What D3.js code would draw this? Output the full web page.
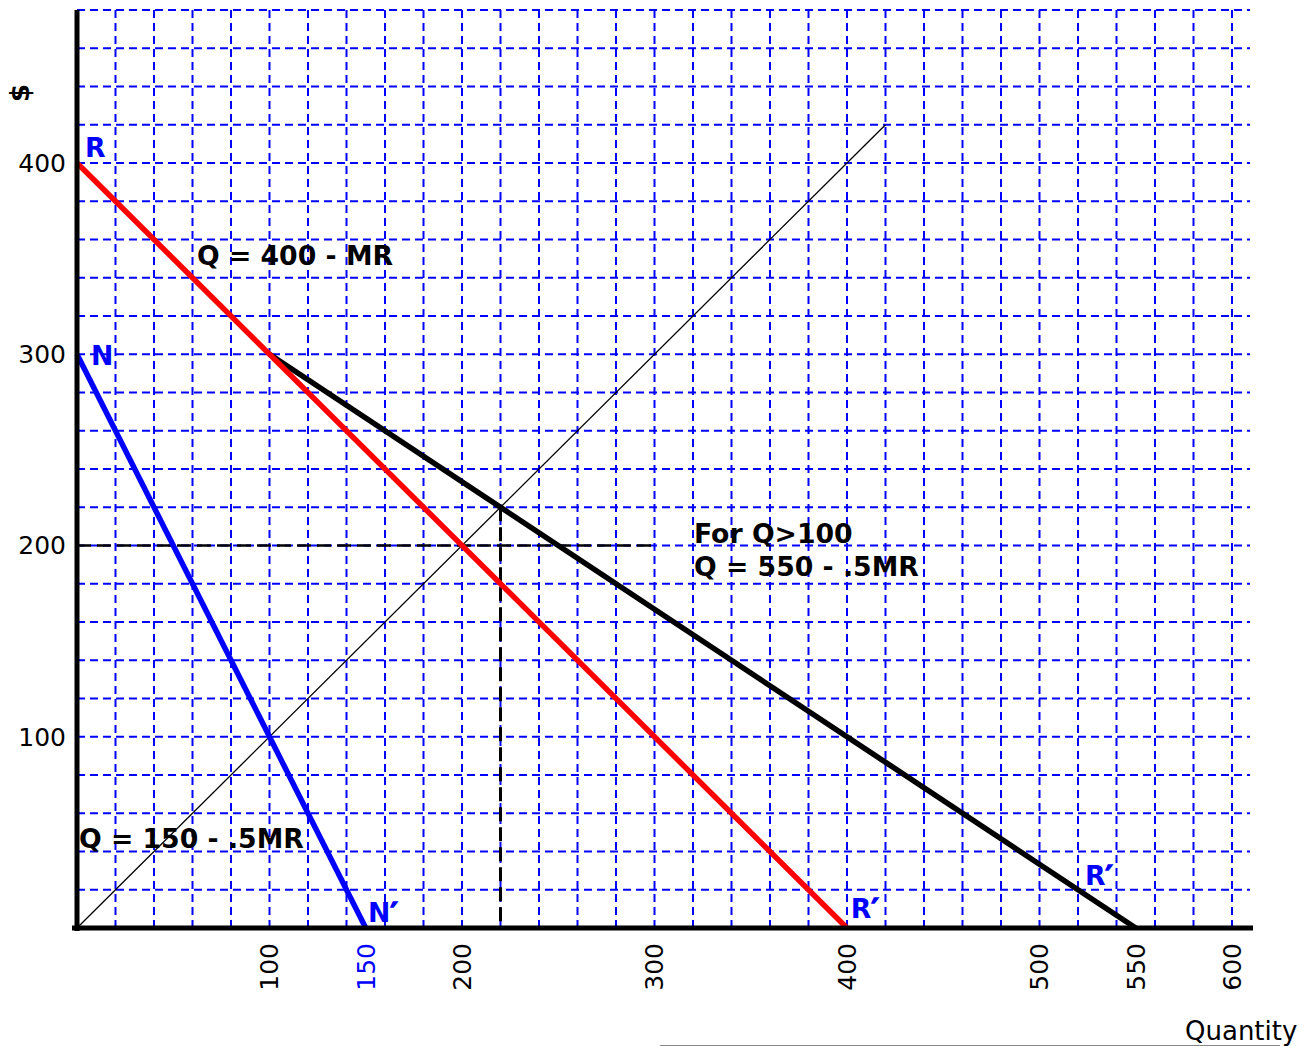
<!DOCTYPE html>
<html>
<head>
<meta charset="utf-8">
<script src="https://cdn.jsdelivr.net/npm/d3@7"></script>
<style>
  body { margin: 0; background: #fff; }
  svg { display: block; font-family: "DejaVu Sans", sans-serif; }
</style>
</head>
<body>
<svg id="chart" width="1308" height="1046"></svg>
<script>
// Axis ticks
const xTicks = [100, 150, 200, 300, 400, 500, 550, 600];
const xTickColors = ["black", "blue", "black", "black", "black", "black", "black", "black"];
const yTicks = [100, 200, 300, 400];

// Curves (Quantity, $)
const rCurve = [[0, 400], [400, 0]];
const nCurve = [[0, 300], [150, 0]];
const sumCurve = [[100, 300], [550, 0]];
const diagonal = [[0, 0], [420, 420]];
const dashH = [[0, 200], [300, 200]];
const dashV = [[220, 220], [220, 0]];

// Annotations, anchored in data space
const labels = [
  { text: "R", prime: false, x: 4.2, y: 403, color: "blue" },
  { text: "N", prime: false, x: 7.3, y: 294.4, color: "blue" },
  { text: "Q = 400 - MR", prime: false, x: 62.3, y: 346.7, color: "black" },
  { text: "For Q>100", prime: false, x: 320.5, y: 201.3, color: "black" },
  { text: "Q = 550 - .5MR", prime: false, x: 320.5, y: 184, color: "black" },
  { text: "Q = 150 - .5MR", prime: false, x: 1, y: 41.8, color: "black" },
  { text: "N", prime: true, x: 151.2, y: 3.1, color: "blue" },
  { text: "R", prime: true, x: 402, y: 5.2, color: "blue" },
  { text: "R", prime: true, x: 523.6, y: 22.5, color: "blue" }
];

const svg = d3.select("#chart");

const x = d3.scaleLinear().domain([0, 600]).range([77, 1232]);
const y = d3.scaleLinear().domain([0, 480]).range([928, 10]);

const line = d3.line().x(d => x(d[0])).y(d => y(d[1]));

// grid
const grid = svg.append("g")
  .attr("stroke", "#0000ff")
  .attr("stroke-width", 2)
  .attr("stroke-dasharray", "8,5");

grid.selectAll("line.v")
  .data(d3.range(20, 601, 20))
  .enter().append("line")
  .attr("class", "v")
  .attr("x1", d => x(d)).attr("x2", d => x(d))
  .attr("y1", y(480)).attr("y2", y(0) + 3);

grid.selectAll("line.h")
  .data(d3.range(20, 481, 20))
  .enter().append("line")
  .attr("class", "h")
  .attr("x1", x(0)).attr("x2", 1250)
  .attr("y1", d => y(d)).attr("y2", d => y(d));

// dashed guides
svg.append("path").datum(dashH)
  .attr("d", line).attr("fill", "none")
  .attr("stroke", "black").attr("stroke-width", 2.5)
  .attr("stroke-dasharray", "14,6");

svg.append("path").datum(dashV)
  .attr("d", line).attr("fill", "none")
  .attr("stroke", "black").attr("stroke-width", 3)
  .attr("stroke-dasharray", "14,6");

// 45 degree line
svg.append("path").datum(diagonal)
  .attr("d", line).attr("fill", "none")
  .attr("stroke", "black").attr("stroke-width", 1.3);

// curves
svg.append("path").datum(sumCurve)
  .attr("d", line).attr("fill", "none")
  .attr("stroke", "black").attr("stroke-width", 5.5);

svg.append("path").datum(rCurve)
  .attr("d", line).attr("fill", "none")
  .attr("stroke", "#ff0000").attr("stroke-width", 5.5);

svg.append("path").datum(nCurve)
  .attr("d", line).attr("fill", "none")
  .attr("stroke", "#0000ff").attr("stroke-width", 5.5);

// axes
svg.append("line")
  .attr("x1", x(0)).attr("x2", x(0))
  .attr("y1", y(480)).attr("y2", y(0) + 3)
  .attr("stroke", "black").attr("stroke-width", 5);

svg.append("line")
  .attr("x1", x(0) - 5).attr("x2", 1253)
  .attr("y1", y(0)).attr("y2", y(0))
  .attr("stroke", "black").attr("stroke-width", 5);

// tick labels
svg.append("g").selectAll("text")
  .data(yTicks)
  .enter().append("text")
  .attr("x", 66)
  .attr("y", d => y(d))
  .attr("dy", "0.35em")
  .attr("text-anchor", "end")
  .attr("font-size", 25)
  .text(d => d);

svg.append("g").selectAll("text")
  .data(xTicks)
  .enter().append("text")
  .attr("transform", d => `translate(${x(d)},943) rotate(-90)`)
  .attr("dy", "0.35em")
  .attr("text-anchor", "end")
  .attr("font-size", 25)
  .attr("fill", (d, i) => xTickColors[i])
  .text(d => d);

// axis titles
svg.append("text")
  .attr("transform", "translate(20,93) rotate(-90)")
  .attr("dy", "0.35em")
  .attr("text-anchor", "middle")
  .attr("font-size", 26)
  .attr("font-weight", "bold")
  .text("$");

svg.append("text")
  .attr("x", 1185).attr("y", 1040)
  .attr("font-size", 26)
  .text("Quantity");

svg.append("line")
  .attr("x1", 660).attr("x2", 1280)
  .attr("y1", 1045.5).attr("y2", 1045.5)
  .attr("stroke", "#888").attr("stroke-width", 1);

// annotations
const ann = svg.append("g").selectAll("text")
  .data(labels)
  .enter().append("text")
  .attr("x", d => x(d.x))
  .attr("y", d => y(d.y))
  .attr("fill", d => d.color)
  .attr("font-size", 26.7)
  .attr("font-weight", "bold")
  .text(d => d.text);

// thick prime marks
ann.filter(d => d.prime)
  .append("tspan")
  .attr("stroke", d => d.color)
  .attr("stroke-width", 1.6)
  .text("\u2032");
</script>
</body>
</html>
